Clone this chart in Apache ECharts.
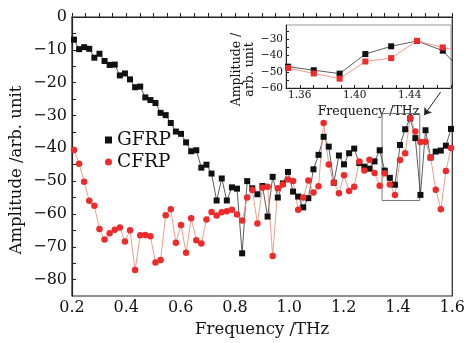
<!DOCTYPE html>
<html><head><meta charset="utf-8">
<script src="https://cdn.jsdelivr.net/npm/echarts@6/dist/echarts.min.js"></script>
<style>html,body{margin:0;padding:0;background:#fff}#c{width:468px;height:343px}</style>
</head><body><div id="c"></div>
<script>
const freq = [0.2073,0.2261,0.2448,0.2636,0.2823,0.3011,0.3199,0.3386,0.3574,0.3761,
0.3949,0.4136,0.4324,0.4511,0.4699,0.4887,0.5074,0.5262,0.5449,0.5637,
0.5824,0.6012,0.6200,0.6387,0.6575,0.6762,0.6950,0.7137,0.7325,0.7513,
0.7700,0.7888,0.8075,0.8263,0.8450,0.8638,0.8826,0.9013,0.9201,0.9388,
0.9576,0.9763,0.9951,1.0139,1.0326,1.0514,1.0701,1.0889,1.1076,1.1264,
1.1452,1.1639,1.1827,1.2014,1.2202,1.2389,1.2577,1.2764,1.2952,1.3140,
1.3327,1.3515,1.3702,1.3890,1.4077,1.4265,1.4453,1.4640,1.4828,1.5015,
1.5203,1.5390,1.5578,1.5765,1.5953];
const gfrp = [-6.9,-9.8,-9.2,-9.7,-12.4,-11.2,-13.4,-14.6,-14.5,-17.8,
-17.2,-19.0,-21.4,-21.2,-24.5,-25.3,-26.2,-29.2,-29.9,-32.3,
-34.9,-35.6,-38.2,-40.9,-40.6,-45.9,-45.0,-47.7,-55.9,-49.2,
-55.9,-51.9,-52.3,-72.0,-50.0,-52.2,-54.0,-51.5,-60.8,-48.7,
-55.0,-50.7,-47.2,-53.2,-54.7,-58.0,-55.2,-46.4,-42.0,-36.5,
-39.5,-50.5,-42.2,-44.9,-41.5,-40.1,-44.5,-45.6,-46.2,-44.0,
-40.6,-46.8,-49.0,-51.1,-39.0,-34.2,-30.9,-36.9,-54.2,-34.5,
-42.8,-41.0,-40.7,-39.2,-34.1];
const cfrp = [-40.5,-44.7,-50.2,-56.0,-57.5,-64.6,-67.8,-65.9,-64.8,-64.1,
-68.4,-65.0,-77.1,-66.5,-66.4,-66.8,-74.8,-74.0,-60.4,-58.6,
-68.8,-63.4,-71.8,-61.3,-68.0,-69.0,-61.7,-59.4,-60.5,-59.5,
-59.2,-58.7,-60.2,-62.0,-55.0,-52.7,-62.9,-52.0,-51.7,-72.8,
-52.2,-51.0,-49.5,-50.0,-58.7,-55.0,-49.8,-53.5,-51.6,-32.3,
-44.9,-50.5,-53.7,-48.2,-53.0,-51.7,-44.0,-46.8,-43.5,-47.5,
-51.4,-47.6,-51.0,-54.2,-43.6,-41.5,-30.8,-34.9,-38.1,-38.0,
-42.8,-52.6,-58.6,-46.9,-39.9];
const seriesNames = ['GFRP','CFRP'];
const xTickLabels = [0.2,0.4,0.6,0.8,1.0,1.2,1.4,1.6];
const xTickMarks = [0.2,0.25,0.3,0.35,0.4,0.45,0.5,0.55,0.6,0.65,0.7,0.75,0.8,0.85,0.9,0.95,1.0,1.05,1.1,1.15,1.2,1.25,1.3,1.35,1.4,1.45,1.5,1.55,1.6];
const yTickLabels = [0,-10,-20,-30,-40,-50,-60,-70,-80];
const yTickMarks = [0,-5,-10,-15,-20,-25,-30,-35,-40,-45,-50,-55,-60,-65,-70,-75,-80];
const insetXLabels = [1.36,1.40,1.44];
const insetXMarks = [1.35,1.36,1.37,1.38,1.39,1.40,1.41,1.42,1.43,1.44,1.45,1.46,1.47];
const insetYLabels = [-30,-40,-50,-60];
const insetYMarks = [-25,-30,-35,-40,-45,-50,-55,-60];

const FONT = 'DejaVu Serif';
const minus = v => String(v).replace('-', '\u2212');
const pairs = arr => freq.map((f, i) => [f, arr[i]]);
const tickStyle = {color:'#222', width:1};

const option = {
  animation: false,
  backgroundColor: '#fff',
  graphic: [
    {type:'text', x:17, y:170, rotation:Math.PI/2,
     style:{text:'Amplitude /arb. unit', fontFamily:FONT, fontSize:16.5, fill:'#111',
            align:'center', verticalAlign:'middle'}}
  ],
  grid: [
    {left:72, top:17, right:13, bottom:42, show:true, borderColor:'#222', borderWidth:1.2},
    {left:286, top:25, width:165, height:63, show:true, borderColor:'#999', borderWidth:1}
  ],
  legend: {
    data: [{name:'GFRP', icon:'rect'}, {name:'CFRP', icon:'circle'}],
    orient:'vertical', left:100, top:125, itemWidth:7, itemHeight:7, itemGap:2,
    textStyle:{fontFamily:FONT, fontSize:18.5, color:'#111', lineHeight:20}
  },
  xAxis: [
    {type:'value', gridIndex:0, min:0.2, max:1.6,
     axisLine:{lineStyle:{color:'#222', width:1.2}},
     axisTick:{inside:true, length:4, customValues:xTickMarks, lineStyle:tickStyle},
     axisLabel:{customValues:xTickLabels, formatter:v=>v.toFixed(1), margin:4, fontFamily:FONT, fontSize:16, color:'#111'},
     splitLine:{show:false},
     name:'Frequency /THz', nameLocation:'middle', nameGap:25,
     nameTextStyle:{fontFamily:FONT, fontSize:16.5, color:'#111'}},
    {type:'value', gridIndex:1, min:1.35, max:1.47,
     axisLine:{lineStyle:{color:'#222', width:1}},
     axisTick:{inside:true, length:3, customValues:insetXMarks, lineStyle:tickStyle},
     axisLabel:{customValues:insetXLabels, formatter:v=>v.toFixed(2), margin:2, fontFamily:FONT, fontSize:10.5, color:'#111'},
     splitLine:{show:false},
     name:'Frequency /THz', nameLocation:'middle', nameGap:17,
     nameTextStyle:{fontFamily:FONT, fontSize:12.5, color:'#111'}}
  ],
  yAxis: [
    {type:'value', gridIndex:0, min:-85, max:0,
     axisLine:{lineStyle:{color:'#222', width:1.2}},
     axisTick:{inside:true, length:4, customValues:yTickMarks, lineStyle:tickStyle},
     axisLabel:{customValues:yTickLabels, formatter:minus, margin:5, fontFamily:FONT, fontSize:16, color:'#111'},
     splitLine:{show:false}},
    {type:'value', gridIndex:1, min:-60, max:-21,
     axisLine:{lineStyle:{color:'#222', width:1}},
     axisTick:{inside:true, length:3, customValues:insetYMarks, lineStyle:tickStyle},
     axisLabel:{customValues:insetYLabels, formatter:minus, margin:3, fontFamily:FONT, fontSize:10.5, color:'#111'},
     splitLine:{show:false},
     name:'Amplitude /\narb. unit', nameLocation:'middle', nameGap:30,
     nameTextStyle:{fontFamily:FONT, fontSize:12.5, color:'#111', lineHeight:13, padding:[0,26,0,0]}}
  ],
  series: [
    {name:seriesNames[0], type:'line', xAxisIndex:0, yAxisIndex:0, data:pairs(gfrp),
     symbol:'rect', symbolSize:6, itemStyle:{color:'#111'}, lineStyle:{color:'#333', width:0.8}},
    {name:seriesNames[1], type:'line', xAxisIndex:0, yAxisIndex:0, data:pairs(cfrp),
     symbol:'circle', symbolSize:6.5, itemStyle:{color:'#ee2a2a'}, lineStyle:{color:'#f2907f', width:0.9},
     markArea:{silent:true, itemStyle:{color:'rgba(0,0,0,0)', borderColor:'#777', borderWidth:1},
       data:[[{coord:[1.3415,-29.4]},{coord:[1.4803,-55.9]}]]},
     markLine:{silent:true, symbol:['none','arrow'], symbolSize:7, label:{show:false},
       lineStyle:{color:'#222', width:1, type:'solid'},
       data:[[{coord:[1.557,-22.9]},{coord:[1.4964,-29.9]}]]}},
    {name:'GFRP inset', type:'line', xAxisIndex:1, yAxisIndex:1, data:pairs(gfrp), clip:true,
     symbol:'rect', symbolSize:6, itemStyle:{color:'#111'}, lineStyle:{color:'#333', width:0.8}},
    {name:'CFRP inset', type:'line', xAxisIndex:1, yAxisIndex:1, data:pairs(cfrp), clip:true,
     symbol:'rect', symbolSize:6, itemStyle:{color:'#ee2a2a'}, lineStyle:{color:'#f2907f', width:0.9}}
  ]
};
echarts.init(document.getElementById('c'), null, {renderer:'canvas'}).setOption(option);
</script></body></html>
